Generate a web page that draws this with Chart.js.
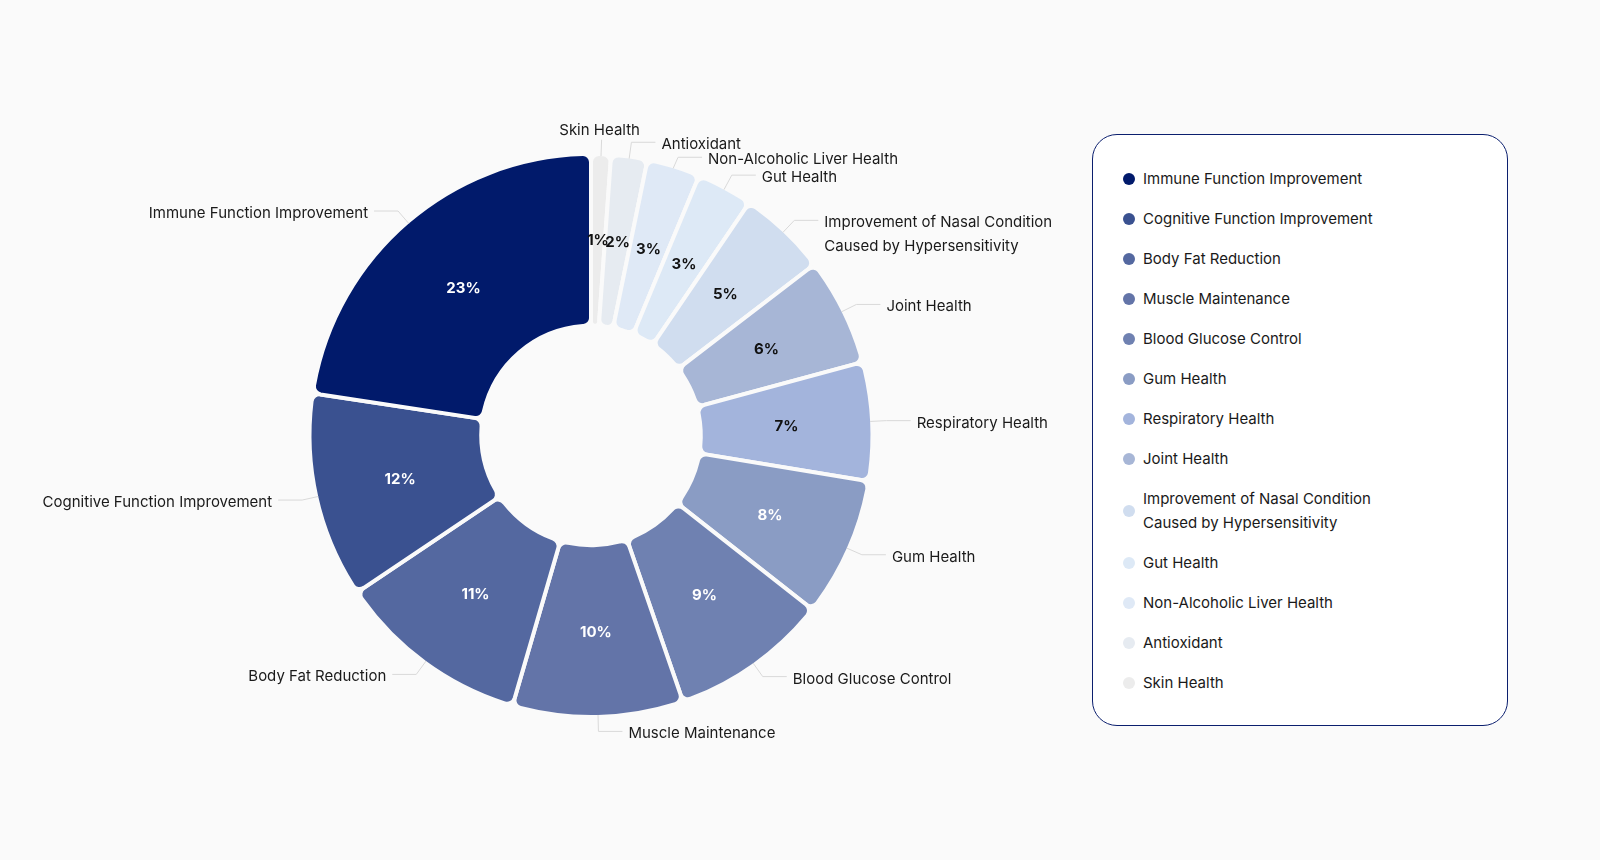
<!DOCTYPE html>
<html>
<head>
<meta charset="utf-8">
<script src="https://cdn.jsdelivr.net/npm/chart.js@4.4.1/dist/chart.umd.min.js"></script>
<style>
  html, body { margin: 0; padding: 0; background: #fafafa; }
  body { width: 1600px; height: 860px; position: relative; overflow: hidden; font-family: Inter, "Noto Sans", sans-serif; }
  #benefitChart { position: absolute; left: 0; top: 0; }
  #legend {
    position: absolute; left: 1092px; top: 134px; width: 416px; height: 592px;
    box-sizing: border-box; border: 1px solid #0b1f6e; border-radius: 25px;
    background: #fff; padding: 32px 0 0 30px;
  }
  .item { display: flex; align-items: center; margin-bottom: 16px; font-size: 15px; line-height: 24px; color: #1a1a1a; }
  .dot { width: 12px; height: 12px; border-radius: 50%; margin-right: 8px; flex: none; }
</style>
</head>
<body>
<canvas id="benefitChart" width="1600" height="860"></canvas>
<div id="legend"></div>
<script>
// legend order (the ring runs counter-clockwise from 12 o'clock in this order)
const categories = [
  "Immune Function Improvement",
  "Cognitive Function Improvement",
  "Body Fat Reduction",
  "Muscle Maintenance",
  "Blood Glucose Control",
  "Gum Health",
  "Respiratory Health",
  "Joint Health",
  ["Improvement of Nasal Condition", "Caused by Hypersensitivity"],
  "Gut Health",
  "Non-Alcoholic Liver Health",
  "Antioxidant",
  "Skin Health"
];
const shares = [22.6, 11.8, 11.1, 9.8, 9.1, 8.0, 6.8, 6.2, 5.1, 3.22, 3.06, 2.08, 1.14];
const sliceColors = [
  "#011a6b", "#3a5190", "#5468a0", "#6374a8", "#6f81b1", "#8a9cc4", "#a3b4dc",
  "#a7b6d6", "#d0ddef", "#dde9f6", "#dfe9f6", "#e6ebf1", "#ececec"
];

const pageBg = "#fafafa";
const labelFont = "15px Inter, 'Noto Sans', sans-serif";
const pctFont = "bold 15px Inter, 'Noto Sans', sans-serif";

function isDark(hex) {
  const r = parseInt(hex.slice(1, 3), 16), g = parseInt(hex.slice(3, 5), 16), b = parseInt(hex.slice(5, 7), 16);
  return (0.299 * r + 0.587 * g + 0.114 * b) / 255 < 0.65;
}

// percentages inside the slices + outside labels with leader lines
const sliceLabels = {
  id: "sliceLabels",
  afterDatasetsDraw(chart) {
    const ctx = chart.ctx;
    const ds = chart.data.datasets[0];
    const meta = chart.getDatasetMeta(0);
    const total = ds.data.reduce((a, b) => a + b, 0);
    const half = ds.borderWidth / 2;
    const leg = 16.5;

    const items = meta.data.map((arc, i) => {
      const p = arc.getProps(["x", "y", "startAngle", "endAngle", "innerRadius", "outerRadius"], true);
      const mid = (p.startAngle + p.endAngle) / 2;
      const cos = Math.cos(mid), sin = Math.sin(mid);
      const r0 = p.outerRadius - half;
      return {
        i, p, cos, sin,
        x0: p.x + cos * r0, y0: p.y + sin * r0,
        x1: p.x + cos * (r0 + leg), y1: p.y + sin * (r0 + leg),
        ly: p.y + sin * (r0 + leg),
        top: sin < 0 && Math.abs(cos * (r0 + leg)) < 14
      };
    });

    // keep labels on each side from stacking on top of each other
    [true, false].forEach(rightSide => {
      const side = items.filter(d => !d.top && (d.cos >= 0) === rightSide).sort((a, b) => a.y1 - b.y1);
      for (let k = 1; k < side.length; k++) {
        const prev = side[k - 1];
        const lines = Array.isArray(chart.data.labels[prev.i]) ? chart.data.labels[prev.i].length : 1;
        const minY = prev.ly + 15 + (lines - 1) * 24;
        if (side[k].ly < minY) side[k].ly = minY;
      }
    });

    ctx.save();
    // inside percentages
    ctx.font = pctFont;
    ctx.textAlign = "center";
    ctx.textBaseline = "middle";
    items.forEach(d => {
      const r = (d.p.innerRadius + d.p.outerRadius) / 2;
      const col = ds.backgroundColor[d.i];
      ctx.fillStyle = isDark(col) ? "#ffffff" : "#111111";
      ctx.fillText(Math.round(ds.data[d.i] / total * 100) + "%", d.p.x + d.cos * r, d.p.y + d.sin * r + 1);
    });

    // leader lines and names
    ctx.font = labelFont;
    ctx.lineWidth = 1;
    ctx.strokeStyle = "#d9d9d9";
    items.forEach(d => {
      const name = chart.data.labels[d.i];
      const lines = Array.isArray(name) ? name : [name];
      ctx.fillStyle = "#1a1a1a";
      ctx.beginPath();
      ctx.moveTo(d.x0, d.y0);
      if (d.top) {
        ctx.lineTo(d.x1, d.y1);
        ctx.stroke();
        ctx.textAlign = "center";
        ctx.fillText(lines[0], d.x1 - 2, d.y1 - 9);
        return;
      }
      const dir = d.cos >= 0 ? 1 : -1;
      ctx.lineTo(d.x1, d.ly);
      ctx.lineTo(d.x1 + dir * 24, d.ly);
      ctx.stroke();
      ctx.textAlign = dir > 0 ? "left" : "right";
      lines.forEach((t, k) => ctx.fillText(t, d.x1 + dir * 30, d.ly + 2.5 + k * 24));
    });
    ctx.restore();
  }
};

const chart = new Chart(document.getElementById("benefitChart").getContext("2d"), {
  type: "doughnut",
  data: {
    labels: categories.slice().reverse(),
    datasets: [{
      data: shares.slice().reverse(),
      backgroundColor: sliceColors.slice().reverse(),
      borderColor: pageBg,
      borderWidth: 4,
      borderRadius: 8
    }]
  },
  options: {
    responsive: false,
    animation: false,
    cutout: "39%",
    layout: { padding: { left: 307.5, right: 725.5, top: 152, bottom: 141 } },
    plugins: { legend: { display: false }, tooltip: { enabled: false } },
    events: []
  },
  plugins: [sliceLabels]
});

// legend box
const legendBox = document.getElementById("legend");
categories.forEach((name, i) => {
  const item = document.createElement("div");
  item.className = "item";
  const dot = document.createElement("span");
  dot.className = "dot";
  dot.style.background = sliceColors[i];
  const text = document.createElement("span");
  text.innerHTML = Array.isArray(name) ? name.join("<br>") : name;
  item.appendChild(dot);
  item.appendChild(text);
  legendBox.appendChild(item);
});
</script>
</body>
</html>
